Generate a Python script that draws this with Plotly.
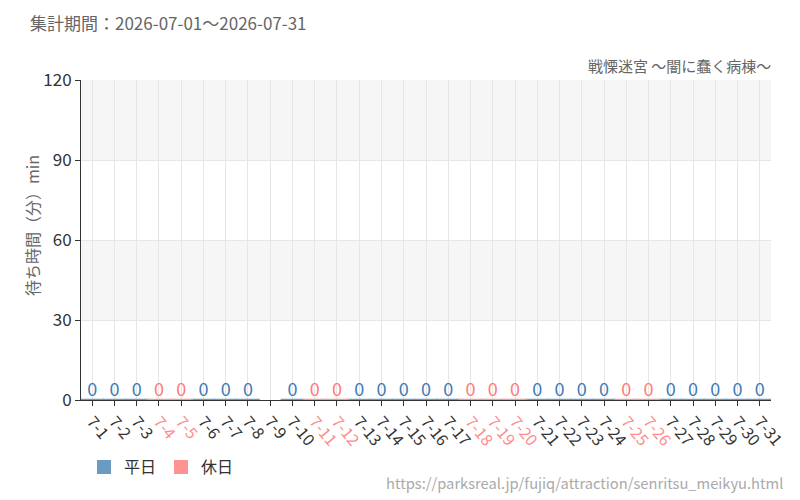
import plotly.graph_objects as go

days = [f"7-{d}" for d in range(1, 32)]
holidays = ["7-4", "7-5", "7-11", "7-12", "7-18", "7-19", "7-20", "7-25", "7-26"]
missing = ["7-9"]
wait_values = [0 if d not in missing else None for d in days]

weekday_vals = [v if (d not in holidays) else None for d, v in zip(days, wait_values)]
holiday_vals = [v if (d in holidays) else None for d, v in zip(days, wait_values)]

y_ticks = [0, 30, 60, 90, 120]
title_text = "集計期間：2026-07-01～2026-07-31"
subtitle_text = "戦慄迷宮 ～闇に蠢く病棟～"
source_text = "https://parksreal.jp/fujiq/attraction/senritsu_meikyu.html"

C_WD = "#6b9bc3"
C_HD = "#ff9393"
C_WD_TXT = "#3f7bb6"
C_HD_TXT = "#ff7b7b"
FONT = "Noto Sans CJK JP, Noto Sans, sans-serif"

fig = go.Figure()
fig.add_trace(go.Bar(x=days, y=weekday_vals, name="平日", width=0.78,
                     marker=dict(color=C_WD, line=dict(color=C_WD, width=2)),
                     hoverinfo="x+y"))
fig.add_trace(go.Bar(x=days, y=holiday_vals, name="休日", width=0.78,
                     marker=dict(color=C_HD, line=dict(color=C_HD, width=2)),
                     hoverinfo="x+y"))
# zero-height bar caps
for vals, col in [(weekday_vals, C_WD), (holiday_vals, C_HD)]:
    fig.add_trace(go.Scatter(x=days, y=vals, mode="markers", showlegend=False,
                             marker=dict(symbol="line-ew", size=17,
                                         line=dict(color=col, width=2.5)),
                             hoverinfo="skip"))
for vals, col in [(weekday_vals, C_WD_TXT), (holiday_vals, C_HD_TXT)]:
    fig.add_trace(go.Scatter(x=days, y=vals, mode="text",
                             text=[str(v) if v is not None else "" for v in vals],
                             textposition="top center", showlegend=False,
                             textfont=dict(color=col, size=18, family=FONT),
                             hoverinfo="skip"))

ticktext = [f'<span style="color:{"#ff8c8c" if d in holidays else "#333333"}">{d}</span>'
            for d in days]

for lo, hi in [(30, 60), (90, 120)]:
    fig.add_shape(type="rect", xref="paper", yref="y", x0=0, x1=1, y0=lo, y1=hi,
                  fillcolor="#f6f6f6", line=dict(width=0), layer="below")

W, H = 800, 500
pl, pr, pt, pb = 81, 29, 80, 100
pw, ph = W - pl - pr, H - pt - pb
def px(x): return (x - pl) / pw
def py(y): return (H - pb - y) / ph

fig.update_layout(
    width=W, height=H,
    margin=dict(l=pl, r=pr, t=pt, b=pb, autoexpand=False),
    paper_bgcolor="white", plot_bgcolor="white",
    barmode="overlay",
    font=dict(family=FONT, size=16, color="#333333"),
    showlegend=True,
    legend=dict(orientation="h", xref="container", yref="container",
                x=0.105, y=1 - 467 / H, xanchor="left", yanchor="middle",
                font=dict(size=16, color="#333333"), itemwidth=30),
    xaxis=dict(categoryorder="array", categoryarray=days,
               tickmode="array", tickvals=days, ticktext=ticktext,
               tickangle=50, ticks="outside", ticklen=5, tickcolor="#333333",
               showline=True, linecolor="#333333", linewidth=1,
               showgrid=True, gridcolor="#e6e6e6", gridwidth=1,
               tickfont=dict(size=16), range=[-0.5, 30.5], automargin=False),
    yaxis=dict(range=[0, 120], tickvals=y_ticks, ticks="outside", ticklen=5,
               tickcolor="#333333", showline=True, linecolor="#333333",
               showgrid=True, gridcolor="#e6e6e6", zeroline=False,
               tickfont=dict(size=17, color="#333333"), automargin=False),
    annotations=[
        dict(text=title_text, xref="paper", yref="paper", x=px(28), y=py(22),
             showarrow=False, xanchor="left", yanchor="middle",
             font=dict(size=17, color="#666666")),
        dict(text=subtitle_text, xref="paper", yref="paper", x=px(773), y=py(78),
             showarrow=False, xanchor="right", yanchor="bottom",
             font=dict(size=15, color="#666666")),
        dict(text=source_text, xref="paper", yref="paper", x=px(785), y=py(482),
             showarrow=False, xanchor="right", yanchor="middle",
             font=dict(size=14.7, color="#aaaaaa")),
        dict(text="待ち時間（分）min", xref="paper", yref="paper", x=px(32), y=py(226),
             showarrow=False, textangle=-90, xanchor="center", yanchor="middle",
             font=dict(size=16, color="#666666")),
    ],
)

fig.write_html("out.html", config={"displayModeBar": False},
               post_script="document.body.style.margin='0';")
